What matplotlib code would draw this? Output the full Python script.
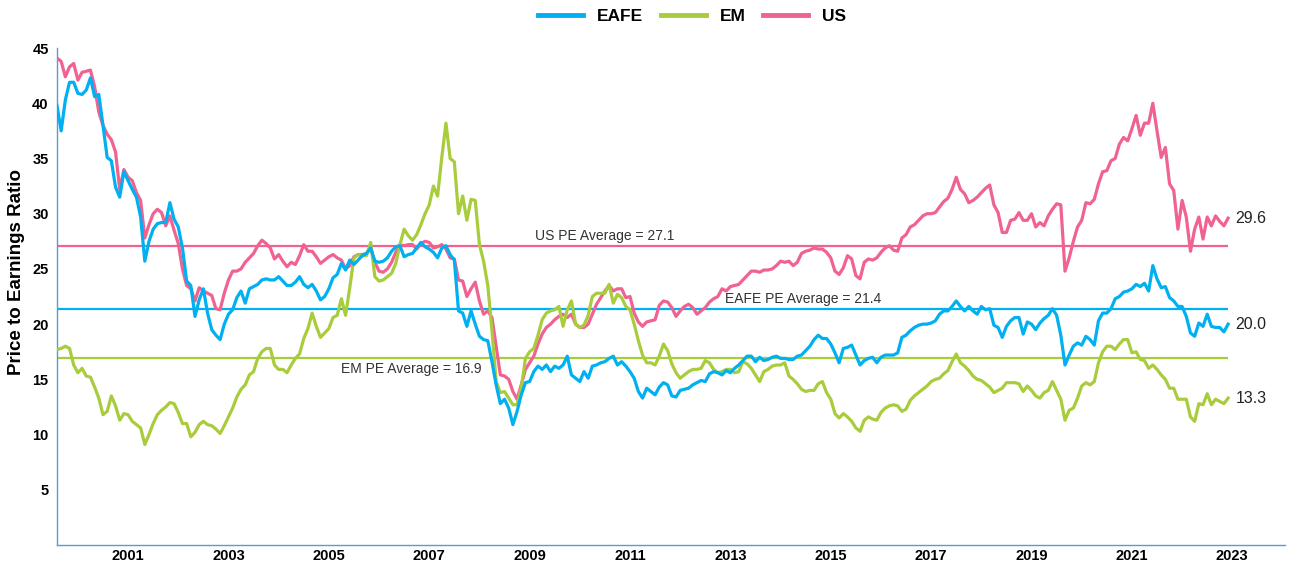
import numpy as np
import matplotlib
matplotlib.use("Agg")
from matplotlib import pyplot as plt

plt.rcParams['font.family'] = ['Liberation Sans', 'DejaVu Sans']

# monthly P/E ratios, Feb 2000 onwards
us = [44.1, 43.8, 42.4, 43.3, 43.6, 42.1, 42.8, 42.9, 43.0, 41.5, 39.2,
      38.0, 37.2, 36.7, 35.6, 32.2, 34.0, 33.3, 33.0, 31.9, 31.2, 27.8, 29.0,
      30.0, 30.4, 30.1, 28.9, 29.8, 28.5, 27.3, 25.0, 23.5, 23.2, 22.1, 23.3,
      23.0, 22.8, 22.6, 21.4, 21.3, 22.8, 24.0, 24.8, 24.8, 25.0, 25.6, 26.0,
      26.4, 27.1, 27.6, 27.3, 26.9, 25.9, 26.3, 25.7, 25.2, 25.6, 25.4, 26.2,
      27.2, 26.6, 26.6, 26.1, 25.5, 25.8, 26.1, 26.3, 26.0, 25.8, 25.0, 25.3,
      26.1, 26.3, 26.3, 26.4, 26.9, 25.6, 24.8, 24.7, 25.0, 25.6, 26.5, 27.2,
      27.1, 27.2, 27.2, 26.8, 27.3, 27.5, 27.4, 26.9, 27.0, 27.2, 26.8, 26.0,
      25.9, 24.0, 23.9, 22.5, 23.2, 23.8, 22.1, 20.9, 21.2, 20.6, 18.0, 15.4,
      15.3, 15.0, 13.9, 13.2, 14.5, 15.9, 16.5, 17.1, 18.2, 19.1, 19.7, 20.0,
      20.4, 20.7, 20.9, 20.6, 20.9, 20.0, 19.7, 19.7, 20.0, 20.9, 21.8, 22.4,
      23.0, 23.5, 23.0, 23.2, 23.2, 22.4, 22.5, 21.0, 20.2, 19.8, 20.2, 20.3,
      20.4, 21.7, 22.1, 22.0, 21.5, 20.7, 21.2, 21.6, 21.8, 21.5, 20.9, 21.2,
      21.5, 22.0, 22.3, 22.5, 23.2, 23.0, 23.4, 23.5, 23.6, 24.0, 24.4, 24.8,
      24.8, 24.7, 24.9, 24.9, 25.0, 25.3, 25.7, 25.6, 25.7, 25.3, 25.6, 26.4,
      26.6, 26.7, 26.9, 26.8, 26.8, 26.5, 26.0, 24.8, 24.5, 25.1, 26.2, 25.9,
      24.4, 24.1, 25.6, 25.9, 25.8, 26.0, 26.5, 26.9, 27.1, 26.7, 26.6, 27.8,
      28.1, 28.8, 29.0, 29.4, 29.8, 30.0, 30.0, 30.1, 30.6, 31.1, 31.4, 32.2,
      33.3, 32.2, 31.8, 31.0, 31.2, 31.5, 31.9, 32.3, 32.6, 30.8, 30.1, 28.3,
      28.3, 29.4, 29.5, 30.1, 29.4, 29.4, 30.0, 28.8, 29.2, 28.9, 29.8, 30.4,
      30.9, 30.8, 24.8, 26.0, 27.5, 28.8, 29.4, 31.0, 30.9, 31.3, 32.7, 33.8,
      33.9, 34.8, 35.0, 36.3, 36.9, 36.6, 37.7, 38.9, 37.1, 38.2, 38.2, 40.0,
      37.5, 35.1, 36.0, 32.7, 32.1, 28.6, 31.2, 29.7, 26.6, 28.6, 29.7, 27.7,
      29.7, 28.9, 29.8, 29.3, 28.9, 29.6]

eafe = [39.8, 37.5, 40.3, 41.9, 41.9, 40.9, 40.8, 41.2, 42.3, 40.6, 40.8,
        38.0, 35.1, 34.8, 32.4, 31.5, 33.8, 33.0, 32.2, 31.5, 29.7, 25.7, 27.5,
        28.6, 29.1, 29.2, 29.2, 31.0, 29.5, 28.8, 26.9, 23.9, 23.5, 20.7, 22.2,
        23.2, 21.0, 19.5, 19.0, 18.6, 20.0, 20.9, 21.3, 22.4, 23.0, 21.9, 23.2,
        23.4, 23.6, 24.0, 24.1, 24.0, 24.0, 24.3, 23.9, 23.5, 23.5, 23.8, 24.3,
        23.6, 23.3, 23.6, 23.0, 22.2, 22.5, 23.2, 24.2, 24.5, 25.5, 24.9, 25.8,
        25.4, 25.8, 26.2, 26.4, 26.9, 25.7, 25.6, 25.7, 26.0, 26.6, 27.0, 27.1,
        26.1, 26.3, 26.4, 26.9, 27.4, 27.0, 26.8, 26.5, 26.0, 26.9, 27.1, 26.3,
        25.8, 21.2, 21.0, 19.8, 21.2, 20.0, 18.9, 18.6, 18.5, 16.6, 14.5, 12.8,
        13.2, 12.4, 10.9, 12.1, 13.6, 14.7, 14.8, 15.7, 16.2, 15.9, 16.3, 15.7,
        16.2, 16.0, 16.3, 17.1, 15.4, 15.1, 14.8, 15.7, 15.1, 16.2, 16.3, 16.5,
        16.6, 16.9, 17.1, 16.3, 16.6, 16.2, 15.7, 15.1, 13.9, 13.3, 14.2, 13.9,
        13.6, 14.3, 14.7, 14.5, 13.5, 13.4, 14.0, 14.1, 14.2, 14.5, 14.7, 14.9,
        14.8, 15.5, 15.7, 15.6, 15.4, 15.8, 15.6, 16.0, 16.3, 16.7, 17.1, 17.1,
        16.6, 17.0, 16.7, 16.8, 17.0, 17.1, 16.9, 16.9, 16.8, 16.8, 17.1, 17.2,
        17.6, 18.0, 18.6, 19.0, 18.7, 18.7, 18.2, 17.4, 16.5, 17.8, 17.9, 18.1,
        17.2, 16.3, 16.7, 16.9, 17.0, 16.5, 17.0, 17.2, 17.2, 17.2, 17.4, 18.8,
        19.0, 19.4, 19.7, 19.9, 20.0, 20.0, 20.1, 20.3, 20.9, 21.2, 21.2, 21.6,
        22.1, 21.6, 21.2, 21.6, 21.2, 20.9, 21.6, 21.3, 21.4, 19.9, 19.7, 18.8,
        19.8, 20.3, 20.6, 20.6, 19.1, 20.2, 20.0, 19.5, 20.1, 20.5, 20.8, 21.4,
        20.8, 19.0, 16.3, 17.2, 18.0, 18.3, 18.1, 18.9, 18.6, 18.1, 20.3, 21.0,
        21.0, 21.4, 22.3, 22.5, 22.9, 23.0, 23.2, 23.6, 23.4, 23.7, 23.0, 25.3,
        24.1, 23.3, 23.4, 22.4, 22.1, 21.6, 21.6, 20.7, 19.2, 18.9, 20.1, 19.8,
        20.9, 19.8, 19.7, 19.7, 19.3, 20.0]

em = [17.7, 17.8, 18.0, 17.8, 16.3, 15.6, 16.0, 15.3, 15.2, 14.3, 13.3,
      11.8, 12.1, 13.5, 12.6, 11.3, 11.9, 11.8, 11.2, 10.9, 10.6, 9.1, 10.0,
      11.0, 11.8, 12.2, 12.5, 12.9, 12.8, 12.0, 11.0, 11.0, 9.8, 10.2, 10.9,
      11.2, 10.9, 10.8, 10.5, 10.1, 10.8, 11.6, 12.4, 13.4, 14.1, 14.5, 15.4,
      15.7, 16.9, 17.5, 17.8, 17.8, 16.3, 15.9, 15.9, 15.6, 16.3, 16.9, 17.3,
      18.7, 19.6, 21.0, 19.8, 18.8, 19.2, 19.6, 20.6, 20.8, 22.3, 20.8, 23.3,
      26.0, 26.3, 26.2, 26.2, 27.4, 24.3, 23.9, 24.0, 24.3, 24.6, 25.5, 27.2,
      28.6, 28.0, 27.6, 28.1, 29.0, 30.0, 30.8, 32.5, 31.6, 35.1, 38.2, 35.0,
      34.7, 30.0, 31.6, 29.4, 31.3, 31.2, 27.2, 25.7, 23.5, 19.4, 14.8, 13.8,
      13.9, 13.3, 12.7, 12.7, 14.2, 16.9, 17.5, 17.8, 19.0, 20.4, 21.0, 21.2,
      21.3, 21.6, 19.8, 21.3, 22.1, 20.0, 19.7, 19.9, 20.8, 22.5, 22.8, 22.8,
      22.8, 23.6, 21.9, 22.7, 22.4, 21.6, 21.3, 20.0, 18.5, 17.2, 16.5, 16.5,
      16.3, 17.1, 18.2, 17.6, 16.4, 15.6, 15.1, 15.4, 15.7, 15.9, 15.9, 16.0,
      16.7, 16.5, 15.9, 15.6, 15.7, 15.9, 15.9, 15.6, 15.7, 16.6, 16.4, 16.0,
      15.4, 14.8, 15.7, 15.9, 16.2, 16.3, 16.3, 16.5, 15.3, 15.0, 14.6, 14.1,
      13.9, 14.0, 14.0, 14.6, 14.8, 13.8, 13.2, 11.9, 11.5, 11.9, 11.6, 11.2,
      10.6, 10.3, 11.3, 11.6, 11.4, 11.3, 12.0, 12.4, 12.6, 12.7, 12.6, 12.1,
      12.3, 13.1, 13.5, 13.8, 14.1, 14.4, 14.8, 15.0, 15.1, 15.5, 15.8, 16.6,
      17.3, 16.5, 16.2, 15.8, 15.3, 15.0, 14.9, 14.6, 14.3, 13.8, 14.0, 14.2,
      14.7, 14.7, 14.7, 14.6, 13.9, 14.4, 14.0, 13.5, 13.3, 13.8, 14.0, 14.8,
      14.0, 13.2, 11.3, 12.2, 12.4, 13.3, 14.4, 14.7, 14.5, 14.8, 16.5, 17.5,
      18.0, 18.0, 17.7, 18.2, 18.6, 18.6, 17.4, 17.5, 16.8, 16.7, 16.0, 16.3,
      15.9, 15.4, 15.0, 14.2, 14.2, 13.2, 13.2, 13.2, 11.6, 11.2, 12.8, 12.7,
      13.7, 12.7, 13.2, 13.0, 12.8, 13.3]

avg_us = 27.1
avg_eafe = 21.4
avg_em = 16.9

year_labels = [2001, 2003, 2005, 2007, 2009, 2011, 2013, 2015, 2017, 2019, 2021, 2023]

c_eafe = "#00B0F0"
c_em = "#A9CC3C"
c_us = "#F0628F"

x = 2000 + (np.arange(len(us)) + 1) / 12.0

fig = plt.figure(figsize=(12.89, 5.66), dpi=100)
ax = fig.add_axes([0.0442, 0.0371, 0.9527, 0.878])

ax.plot(x, us, color=c_us, lw=2.3, label="US", zorder=3)
ax.plot(x, em, color=c_em, lw=2.3, label="EM", zorder=4)
ax.plot(x, eafe, color=c_eafe, lw=2.3, label="EAFE", zorder=5)

ax.hlines(avg_us, x[0], x[-1], color=c_us, lw=1.6, zorder=2)
ax.hlines(avg_eafe, x[0], x[-1], color=c_eafe, lw=1.6, zorder=2)
ax.hlines(avg_em, x[0], x[-1], color=c_em, lw=1.6, zorder=2)

ax.text(2009.6, avg_us + 0.25, "US PE Average = %.1f" % avg_us, fontsize=10,
        color="#333333", va="bottom", ha="left")
ax.text(2013.4, avg_eafe + 0.25, "EAFE PE Average = %.1f" % avg_eafe, fontsize=10,
        color="#333333", va="bottom", ha="left")
ax.text(2005.75, avg_em - 0.35, "EM PE Average = %.1f" % avg_em, fontsize=10,
        color="#333333", va="top", ha="left")

for vals in (us, eafe, em):
    ax.text(x[-1] + 0.15, vals[-1], "%.1f" % vals[-1], fontsize=11.5,
            color="#222222", va="center", ha="left")

ax.set_xlim(x[0], 2024.55)
ax.set_ylim(0, 45)
ax.set_yticks(range(5, 50, 5))
ax.set_xticks([y + 0.5 for y in year_labels])
ax.set_xticklabels([str(y) for y in year_labels])
ax.tick_params(axis="y", length=0, labelsize=10.5, pad=6)
ax.tick_params(axis="x", length=0, labelsize=10.5, pad=3)
for lab in ax.get_xticklabels() + ax.get_yticklabels():
    lab.set_fontweight("bold")

ax.set_ylabel("Price to Earnings Ratio", fontsize=13.5, fontweight="bold")
ax.yaxis.set_label_coords(-0.026, 0.55)

for s in ("top", "right"):
    ax.spines[s].set_visible(False)
for s in ("left", "bottom"):
    ax.spines[s].set_color("#5B9BD5")
    ax.spines[s].set_linewidth(1.0)

handles, labels = ax.get_legend_handles_labels()
order = [2, 1, 0]
leg = fig.legend([handles[i] for i in order], [labels[i] for i in order],
                 loc="center", bbox_to_anchor=(0.537, 0.971), ncol=3, frameon=False,
                 prop={"weight": "bold", "size": 12.5}, handlelength=2.6,
                 columnspacing=1.0, handletextpad=0.8)
for line in leg.get_lines():
    line.set_linewidth(3.5)

fig.savefig("out.png", dpi=100)
